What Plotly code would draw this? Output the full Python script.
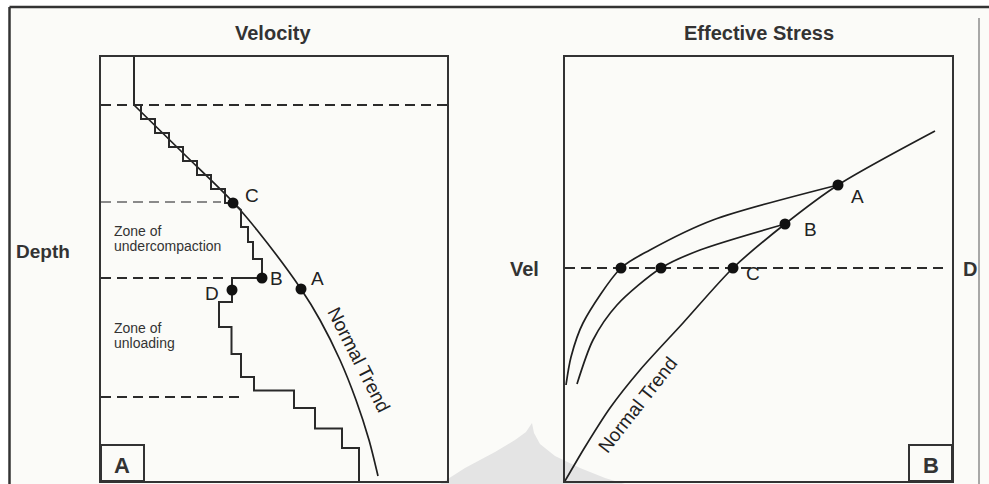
import plotly.graph_objects as go

W, H = 989, 484


def px(x):
    return x / W


def py(y):
    return 1 - y / H


# ---------------- Panel A: velocity (x) vs depth (y, downward) ----------------
trendA_vel = [33, 83, 132, 156, 200, 219, 239, 255, 268, 277]
trendA_depth = [48, 97, 145, 173, 232, 263, 303, 343, 383, 419]

# interval-velocity staircase (vertices, velocity / depth)
stepA_vel = [33, 33, 40, 40, 54, 54, 68, 68, 82, 82, 96, 96, 110, 110, 124, 124,
             132, 140, 140, 147, 147, 152, 152, 161, 161, 131, 131, 118, 118,
             130.5, 130.5, 140, 140, 153, 153, 193, 193, 214, 214, 241, 241, 258, 258]
stepA_depth = [0, 48, 48, 62, 62, 76, 76, 90, 90, 104, 104, 118, 118, 132, 132, 146,
               146, 153, 170, 170, 185, 185, 202, 202, 221, 221, 245, 245, 270,
               270, 297, 297, 320, 320, 333.5, 333.5, 351, 351, 371.5, 371.5, 391, 391, 424]

pointsA_label = ["C", "B", "A", "D"]
pointsA_vel = [132, 161, 200, 131]
pointsA_depth = [146, 221, 232, 233]

dashA_depth = [48, 145, 221, 340]
dashA_end = [346, 120, 124, 144]
dashA_color = ["#2b2b2b", "#8a8a8a", "#2b2b2b", "#2b2b2b"]

# ---------------- Panel B: effective stress (x) vs velocity (y) ----------------
trendB_stress = [0, 20, 45, 75, 118, 168, 220, 273, 370]
trendB_vel = [0, 34, 73, 111, 158, 213, 257, 296, 350]

unloadA_stress = [273, 148, 85, 56, 18, 6, 1]
unloadA_vel = [296, 261, 231, 213, 158, 124, 96]

unloadB_stress = [220, 135, 96, 52, 28, 12]
unloadB_vel = [257, 231, 213, 176, 141, 97]

pointsB_stress = [56, 96, 168, 220, 273]
pointsB_vel = [213, 213, 213, 257, 296]
labelsB = ["C", "B", "A"]
labelsB_stress = [188, 245, 292]
labelsB_vel = [208, 252, 285]

vel_level = 213

LINE = "#1f1f1f"
BOX = "#333333"
FONT = "Liberation Sans, Arial, sans-serif"

fig = go.Figure()

# Panel A dashed depth levels
for d, e, c in zip(dashA_depth, dashA_end, dashA_color):
    fig.add_trace(go.Scatter(x=[0, e], y=[d, d], mode="lines",
                             line=dict(color=c, width=2, dash="10px,6px"),
                             xaxis="x", yaxis="y", hoverinfo="skip"))

fig.add_trace(go.Scatter(x=trendA_vel, y=trendA_depth, mode="lines",
                         line=dict(color=LINE, width=1.7, shape="spline", smoothing=0.8),
                         xaxis="x", yaxis="y", hoverinfo="skip"))
fig.add_trace(go.Scatter(x=stepA_vel, y=stepA_depth, mode="lines",
                         line=dict(color="#2a2a2a", width=2),
                         xaxis="x", yaxis="y", hoverinfo="skip"))
fig.add_trace(go.Scatter(x=pointsA_vel, y=pointsA_depth, mode="markers",
                         marker=dict(color="#111111", size=11),
                         xaxis="x", yaxis="y", hoverinfo="skip"))

# Panel B
fig.add_trace(go.Scatter(x=[0, 382], y=[vel_level, vel_level], mode="lines",
                         line=dict(color="#2b2b2b", width=2, dash="10px,6px"),
                         xaxis="x2", yaxis="y2", hoverinfo="skip"))
for xs, ys in [(trendB_stress, trendB_vel), (unloadA_stress, unloadA_vel),
               (unloadB_stress, unloadB_vel)]:
    fig.add_trace(go.Scatter(x=xs, y=ys, mode="lines",
                             line=dict(color=LINE, width=1.7, shape="spline", smoothing=0.8),
                             xaxis="x2", yaxis="y2", hoverinfo="skip"))
fig.add_trace(go.Scatter(x=pointsB_stress, y=pointsB_vel, mode="markers",
                         marker=dict(color="#111111", size=11),
                         xaxis="x2", yaxis="y2", hoverinfo="skip"))

ax = dict(showgrid=False, zeroline=False, showticklabels=False, ticks="",
          showline=True, linecolor=BOX, linewidth=2, mirror=True, fixedrange=True)

annotations = []


def ann(text, x, y, xref="paper", yref="paper", size=14, color="#222222",
        xanchor="center", yanchor="middle", angle=0):
    annotations.append(dict(text=text, x=x, y=y, xref=xref, yref=yref, showarrow=False,
                            font=dict(family=FONT, size=size, color=color),
                            xanchor=xanchor, yanchor=yanchor, textangle=angle))


# titles / axis words
ann("<b>Velocity</b>", px(273), py(33), size=20, color="#333333")
ann("<b>Effective Stress</b>", px(759), py(33), size=20, color="#333333")
ann("<b>Depth</b>", px(14), py(251), size=19, color="#333333", xanchor="left")
ann("<b>Vel</b>", px(524), py(269), size=20, color="#333333")
ann("<b>D</b>", px(970), py(269), size=20, color="#333333")

# panel A point labels
labA_pos = {"C": (151, 138), "B": (175, 221), "A": (216, 221), "D": (111, 236)}
for lab in pointsA_label:
    vx, dy = labA_pos[lab]
    ann(lab, vx, dy, "x", "y", size=19)

ann("Zone of", 11, 174, "x", "y", size=14, color="#333333", xanchor="left")
ann("undercompaction", 11, 189, "x", "y", size=14, color="#333333", xanchor="left")
ann("Zone of", 11, 271, "x", "y", size=14, color="#333333", xanchor="left")
ann("unloading", 11, 286, "x", "y", size=14, color="#333333", xanchor="left")
ann("Normal Trend", 258, 302, "x", "y", size=19, angle=63)
ann("<b>A</b>", 21, 408, "x", "y", size=22, color="#333333")

# panel B labels
for lab, sx, vy in zip(labelsB, labelsB_stress, labelsB_vel):
    ann(lab, sx, vy, "x2", "y2", size=19)
ann("Normal Trend", 72, 76, "x2", "y2", size=19, angle=-52)
ann("<b>B</b>", 365.5, 16, "x2", "y2", size=22, color="#333333")


def ppath(points):
    s = "M " + " L ".join(f"{px(a):.5f},{py(b):.5f}" for a, b in points) + " Z"
    return s


shapes = [
    # frame interior
    dict(type="rect", xref="paper", yref="paper", x0=px(10), x1=1, y0=0, y1=py(8),
         fillcolor="#fbfbf8", line=dict(width=0), layer="below"),
    # watermark
    dict(type="path", xref="paper", yref="paper",
         path=ppath([(440, 484), (465, 468), (495, 452), (515, 440), (526, 432), (532, 423),
                     (534, 433), (540, 444), (555, 456), (580, 468), (605, 478), (625, 484)]),
         fillcolor="#e4e4e4", line=dict(width=0), layer="below"),
    # outer frame
    dict(type="line", xref="paper", yref="paper", x0=px(9.5), x1=px(9.5), y0=0, y1=py(7),
         line=dict(color="#333333", width=2.5)),
    dict(type="line", xref="paper", yref="paper", x0=px(9.5), x1=1, y0=py(7), y1=py(7),
         line=dict(color="#333333", width=2.5)),
    dict(type="line", xref="paper", yref="paper", x0=px(979), x1=px(979), y0=0, y1=py(18),
         line=dict(color="#8c8c8c", width=1.5)),
    # small panel-letter boxes
    dict(type="rect", xref="x", yref="y", x0=0, x1=43, y0=388, y1=424,
         line=dict(color=BOX, width=2)),
    dict(type="rect", xref="x2", yref="y2", x0=344, x1=387, y0=0, y1=36,
         line=dict(color=BOX, width=2)),
]

fig.update_layout(
    width=W, height=H, margin=dict(l=0, r=0, t=0, b=0),
    paper_bgcolor="white", plot_bgcolor="rgba(0,0,0,0)",
    showlegend=False,
    xaxis=dict(domain=[px(101), px(447)], range=[0, 346], anchor="y", **ax),
    yaxis=dict(domain=[py(481), py(57)], range=[424, 0], anchor="x", **ax),
    xaxis2=dict(domain=[px(565), px(952)], range=[0, 387], anchor="y2", **ax),
    yaxis2=dict(domain=[py(481), py(57)], range=[0, 424], anchor="x2", **ax),
    annotations=annotations,
    shapes=shapes,
)

fig.write_html("out.html", config={"displayModeBar": False})
